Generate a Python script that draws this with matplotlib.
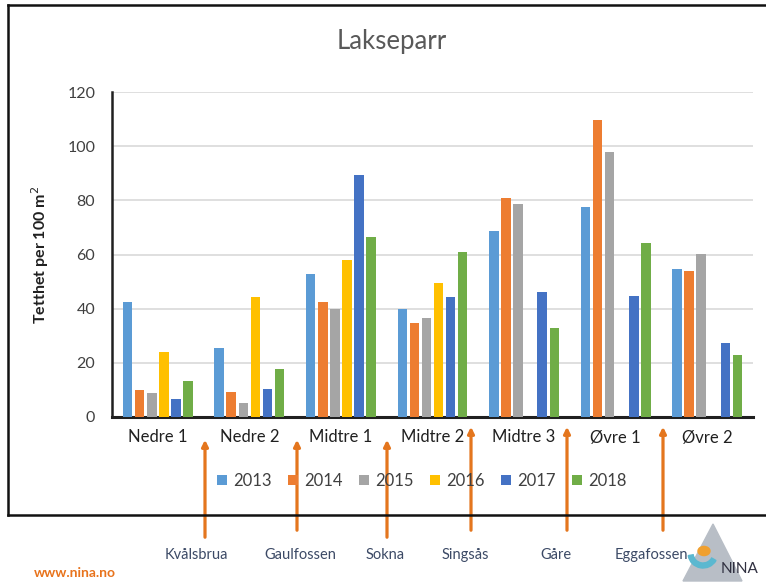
import numpy as np
import matplotlib.pyplot as plt
from matplotlib.lines import Line2D
from matplotlib.patches import FancyArrowPatch, Polygon, Circle, Wedge

plt.rcParams['font.family'] = ['Lato', 'DejaVu Sans']

# data
stations = ["Nedre 1", "Nedre 2", "Midtre 1", "Midtre 2", "Midtre 3", "Øvre 1", "Øvre 2"]
years = ["2013", "2014", "2015", "2016", "2017", "2018"]
v2013 = [42.3, 25.4, 52.7, 39.8, 68.6, 77.7, 54.5]
v2014 = [10.1, 9.4, 42.3, 34.8, 80.9, 109.7, 53.8]
v2015 = [8.9, 5.0, 39.9, 36.7, 78.5, 97.7, 60.1]
v2016 = [23.9, 44.4, 58.1, 49.4, np.nan, np.nan, np.nan]
v2017 = [6.8, 10.3, 89.2, 44.2, 46.0, 44.8, 27.4]
v2018 = [13.4, 17.8, 66.3, 60.8, 33.0, 64.1, 23.0]
series = [v2013, v2014, v2015, v2016, v2017, v2018]
colors = ["#5B9BD5", "#ED7D31", "#A5A5A5", "#FFC000", "#4472C4", "#70AD47"]

barriers = ["Kvålsbrua", "Gaulfossen", "Sokna", "Singsås", "Gåre", "Eggafossen"]

W, H = 766, 583
fig = plt.figure(figsize=(W / 100, H / 100), dpi=100)
ax = fig.add_axes([112 / W, 1 - 417 / H, 641 / W, 325 / H])

x = np.arange(len(stations))
step = 0.132
width = 0.104
for i, (vals, c) in enumerate(zip(series, colors)):
    ax.bar(x + (i - 2.5) * step, vals, width=width, color=c, label=years[i], zorder=3)

ax.set_xlim(-0.5, len(stations) - 0.5)
ax.set_ylim(0, 120)
ax.set_yticks(range(0, 121, 20))
ax.yaxis.grid(True, color="#d9d9d9", lw=1.2, zorder=0)
ax.set_xticks(x)
ax.set_xticklabels(stations, fontsize=12, color="#202020")
ax.tick_params(axis="x", length=0, pad=9)
ax.tick_params(axis="y", length=0, pad=12, labelsize=11.5, labelcolor="#404040")
for s in ["top", "right"]:
    ax.spines[s].set_visible(False)
ax.spines["left"].set_linewidth(1.8)
ax.spines["left"].set_color("#202020")
ax.spines["bottom"].set_linewidth(2.2)
ax.spines["bottom"].set_color("#202020")
ax.set_ylabel("Tetthet per 100 m$^2$", fontsize=11.5, fontweight="bold", color="#202020", labelpad=12)

fig.text(392 / W, 1 - 42 / H, "Lakseparr", ha="center", va="center", fontsize=18.5, color="#595959")

fig.legend(loc="center", bbox_to_anchor=(422 / W, 1 - 481 / H), ncol=6, frameon=False,
           fontsize=12, handlelength=0.6, handleheight=0.6, handletextpad=0.35, columnspacing=1.0,
           labelcolor="#404040")

# outer frame
fig.add_artist(Line2D([8 / W, 8 / W], [1 - 5 / H, 1 - 515 / H], transform=fig.transFigure, color="#111111", lw=1.8))
fig.add_artist(Line2D([8 / W, 1], [1 - 5 / H, 1 - 5 / H], transform=fig.transFigure, color="#111111", lw=1.8))
fig.add_artist(Line2D([8 / W, 1], [1 - 515 / H, 1 - 515 / H], transform=fig.transFigure, color="#111111", lw=1.8))

# barrier arrows
arrow_x = [205, 297, 387, 471, 567, 663]
arrow_top = [437, 437, 437, 424, 424, 424]
arrow_bot = [540, 533, 540, 533, 533, 533]
label_x = [196, 300, 385, 465, 556, 651]
for name, xa, top, bot, lx in zip(barriers, arrow_x, arrow_top, arrow_bot, label_x):
    fig.add_artist(FancyArrowPatch((xa / W, 1 - bot / H), (xa / W, 1 - top / H),
                                   transform=fig.transFigure, arrowstyle="-|>", mutation_scale=9,
                                   color="#E4761E", lw=2.3))
    fig.text(lx / W, 1 - 555 / H, name, ha="center", va="center", fontsize=10.5,
             color="#3C4A66")

fig.text(34 / W, 1 - 573 / H, "www.nina.no", ha="left", va="center", fontsize=10,
         color="#E8731C", fontweight="bold")

# simple NINA logo
fig.add_artist(Polygon([(683 / W, 1 - 581 / H), (713 / W, 1 - 524 / H), (742 / W, 1 - 581 / H)],
                       closed=True, transform=fig.transFigure, color="#B8BEC6", zorder=1))
fig.add_artist(Wedge((703, H - 553), 15, 190, 330, width=5, transform=None,
                     color="#5BB8D0", zorder=2))
fig.add_artist(Circle((704 / W, 1 - 551 / H), 6 / W, transform=fig.transFigure, color="#F0A030", zorder=3))
fig.text(721 / W, 1 - 569 / H, "NINA", ha="left", va="center", fontsize=11, color="#303040", zorder=4)

fig.savefig("out.png", dpi=100)
